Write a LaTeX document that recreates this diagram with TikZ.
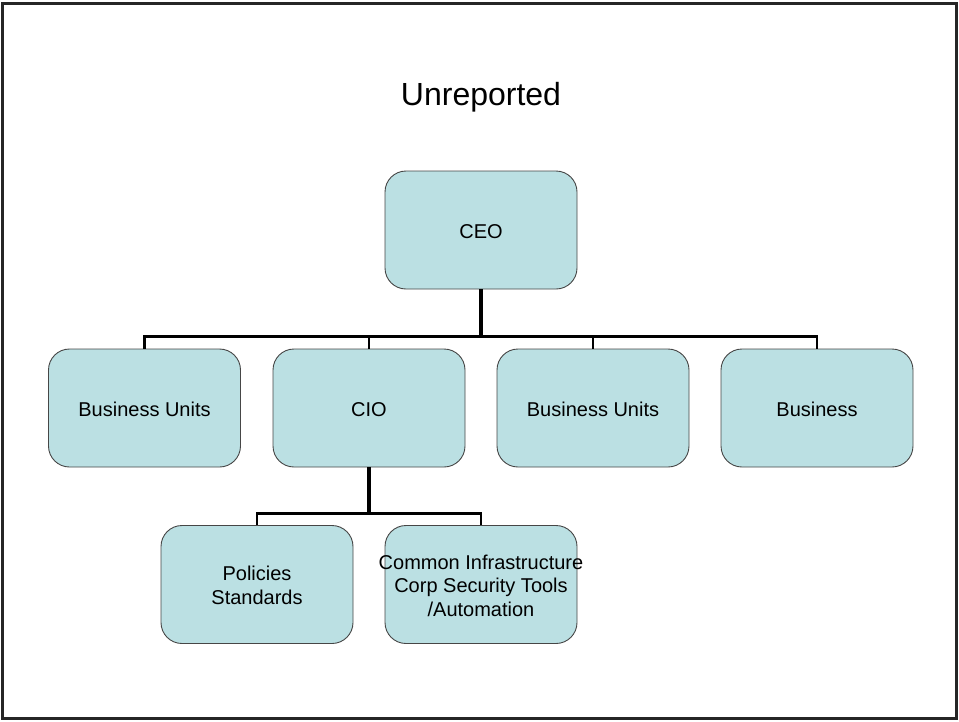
\documentclass[tikz,border=0pt]{standalone}
\usepackage{fontspec}
\setmainfont{Liberation Sans}
\definecolor{boxfill}{RGB}{187,224,227}
\definecolor{boxline}{RGB}{70,70,70}
% line strut that keeps the caps sitting just below the box centre
\newcommand\boxstrut{\rule[-2pt]{0pt}{20.4pt}}
\begin{document}
\begin{tikzpicture}[x=1pt,y=-1pt,
  orgbox/.style={draw=boxline, line width=0.9pt, fill=boxfill, rounded corners=21pt,
    minimum width=192pt, minimum height=118pt, inner sep=2pt, align=center,
    font=\fontsize{20}{23.5}\selectfont},
  bus/.style={line width=2.2pt, black},
  stem/.style={line width=4pt, black}]
  \useasboundingbox (0,0) rectangle (959,721);
  % page frame
  \draw[line width=2.6pt, black!85] (2.5,3.5) rectangle (956.5,718.5);

  \node[font=\fontsize{32}{36}\selectfont] (title) at (481,97) {Unreported};

  % top level
  \node[orgbox] (ceo) at (481,230) {CEO\boxstrut};
  % second level
  \node[orgbox] (bu1) at (144.5,408) {Business Units\boxstrut};
  \node[orgbox] (cio) at (369,408) {CIO\boxstrut};
  \node[orgbox] (bu2) at (593,408) {Business Units\boxstrut};
  \node[orgbox] (biz) at (817,408) {Business\boxstrut};
  % third level
  \node[orgbox] (pol) at (257,584.5) {Policies\boxstrut\\Standards\boxstrut};
  \node[orgbox] (com) at (481,584.5) {\makebox[0pt][c]{Common Infrastructure}\boxstrut\\Corp Security Tools\\/Automation\boxstrut};

  % CEO to second level
  \draw[stem] (ceo.south) -- ++(0,47) coordinate (j1);
  \draw[bus] (bu1.north) |- (j1) -| (biz.north);
  \draw[bus] (cio.north) -- (cio.north |- j1);
  \draw[bus] (bu2.north) -- (bu2.north |- j1);

  % CIO to third level
  \draw[stem] (cio.south) -- ++(0,46) coordinate (j2);
  \draw[bus] (pol.north) |- (j2) -| (com.north);
\end{tikzpicture}
\end{document}
